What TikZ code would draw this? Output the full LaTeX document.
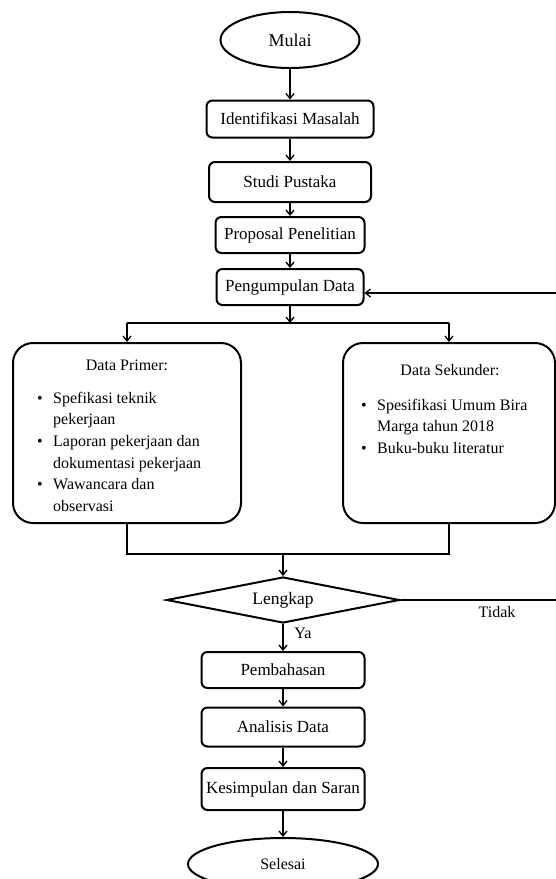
\documentclass[tikz,border=0pt]{standalone}
\usepackage{fontspec}
\setmainfont{Liberation Serif}
\usetikzlibrary{shapes.geometric,arrows.meta}

\tikzset{
  procbox/.style={draw, line width=2pt, rounded corners=6pt, inner sep=0pt, font=\fontsize{17}{21.6}\selectfont},
  termnode/.style={draw, ellipse, line width=2pt, inner sep=0pt},
  decnode/.style={draw, diamond, line width=2pt, aspect=5, inner sep=0pt, font=\fontsize{17.5}{21.6}\selectfont},
  bigbox/.style={draw, line width=2pt, rounded corners=20pt, inner sep=0pt},
  flow/.style={line width=1.3pt, -{Straight Barb[length=5pt,width=8pt]}},
  link/.style={line width=1.3pt}
}

\begin{document}
\begin{tikzpicture}[x=1pt,y=-1pt,font=\fontsize{16}{21.6}\selectfont]
\useasboundingbox (0,0) rectangle (556,879);

\node[termnode, minimum width=139pt, minimum height=56pt, font=\fontsize{18}{21.6}\selectfont] (mulai) at (290,40) {Mulai};
\node[procbox, minimum width=167pt, minimum height=37pt] (im) at (290,119) {Identifikasi Masalah};
\node[procbox, minimum width=162pt, minimum height=40pt] (sp) at (290,182) {Studi Pustaka};
\node[procbox, minimum width=149pt, minimum height=36pt] (pp) at (290,235) {Proposal Penelitian};
\node[procbox, minimum width=147pt, minimum height=36pt] (pd) at (290,287) {Pengumpulan Data};

\node[bigbox, minimum width=228pt, minimum height=180pt] (prim) at (127,433) {};
\node[bigbox, minimum width=212pt, minimum height=180pt] (sek) at (449,433) {};
\node (primt) at (127,365) {Data Primer:};
\node (sekt) at (450,370) {Data Sekunder:};
\node[anchor=north west, inner sep=0pt] (priml) at (37,388) {%
  \begin{tabular}{@{}p{11pt}@{\hspace{5pt}}l@{}}
  \textbullet & Spefikasi teknik\\
   & pekerjaan\\
  \textbullet & Laporan pekerjaan dan\\
   & dokumentasi pekerjaan\\
  \textbullet & Wawancara dan\\
   & observasi
  \end{tabular}};
\node[anchor=north west, inner sep=0pt] (sekl) at (361,395) {%
  \begin{tabular}{@{}p{11pt}@{\hspace{5pt}}l@{}}
  \textbullet & Spesifikasi Umum Bira\\
   & Marga tahun 2018\\
  \textbullet & Buku-buku literatur
  \end{tabular}};

\node[decnode, minimum width=233pt, minimum height=46pt] (lk) at (283,600) {Lengkap};
\node[procbox, minimum width=163pt, minimum height=36pt] (pb) at (283,670) {Pembahasan};
\node[procbox, minimum width=163pt, minimum height=39pt] (ad) at (283,727) {Analisis Data};
\node[procbox, minimum width=163pt, minimum height=42pt] (ks) at (283,789) {Kesimpulan dan Saran};
\node[termnode, minimum width=190pt, minimum height=52pt] (sl) at (283,864) {Selesai};

\node (ya) at (303,633) {Ya};
\node (tidak) at (497,612) {Tidak};

\coordinate (split) at (290,323);
\coordinate (merge) at (283,554);
\coordinate (tidakr) at (559,600);
\coordinate (fbr) at (559,293);

\draw[flow] (mulai) -- (im);
\draw[flow] (im) -- (sp);
\draw[flow] (sp) -- (pp);
\draw[flow] (pp) -- (pd);

\draw[flow] (pd.south -| split) -- (split);
\draw[link] (split -| prim) -- (split -| sek);
\draw[flow] (split -| prim) -- (prim.north);
\draw[flow] (split -| sek) -- (sek.north);

\draw[link] (prim.south) -- (merge -| prim) -- (merge -| sek) -- (sek.south);
\draw[flow] (merge) -- (lk.north);

\draw[link] (lk.east) -- (tidakr) -- (fbr);
\draw[flow] (fbr) -- (fbr -| pd.east);

\draw[flow] (lk) -- (pb);
\draw[flow] (pb) -- (ad);
\draw[flow] (ad) -- (ks);
\draw[flow] (ks) -- (sl);
\end{tikzpicture}
\end{document}
